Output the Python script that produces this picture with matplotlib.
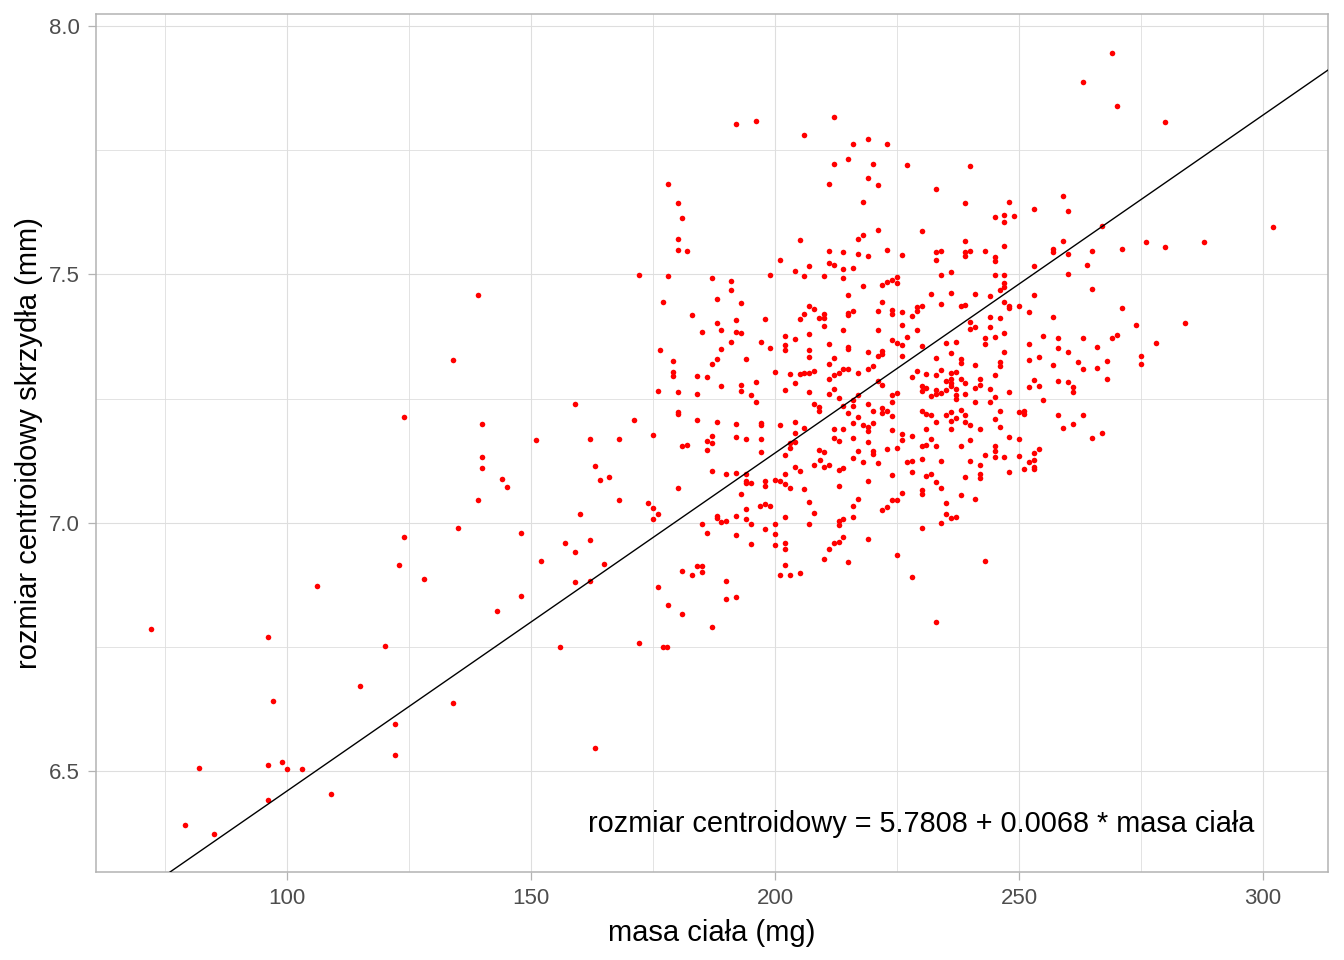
import matplotlib
matplotlib.use("Agg")
import matplotlib.pyplot as plt
import numpy as np

# ---- data (masa ciała [mg], rozmiar centroidowy [mm]), grouped by region ----
lewa_strona = [(124.0,7.214),(124.0,6.972),(122.9,6.916),(106.1,6.873),(72.1,6.787),(96.1,6.771),(120.1,6.752),
    (115.0,6.673),(97.1,6.641),(122.1,6.595),(122.1,6.534),(82.0,6.508),(96.1,6.514),(99.0,6.520),(100.0,6.506),
    (103.1,6.506),(109.0,6.454),(96.1,6.442),(79.1,6.392),(85.0,6.374)]

srodek_lewy = [(176.0,7.266),(159.0,7.240),(140.0,7.200),(171.1,7.208),(151.0,7.166),(162.1,7.168),(168.0,7.168),
    (175.0,7.178),(140.0,7.133),(140.0,7.111),(163.1,7.115),(144.1,7.089),(164.1,7.087),(166.0,7.093),(145.1,7.073),
    (139.1,7.047),(168.0,7.047),(174.0,7.041),(175.0,7.031),(160.0,7.019),(176.0,7.019),(175.0,7.007),(135.0,6.989),
    (148.0,6.979),(157.0,6.960),(162.1,6.966),(159.0,6.942),(152.0,6.924),(165.0,6.918),(128.1,6.888),(159.0,6.882),
    (162.1,6.884),(176.0,6.872),(148.0,6.854),(143.0,6.822),(155.9,6.751),(172.1,6.759),(134.0,6.637),(163.1,6.548),
    (177.0,6.750),(177.9,6.750),(139.1,7.458),(134.0,7.327),(172.1,7.498)]

kolumna_200_gora = [(192.0,7.802),(196.1,7.808),(205.9,7.780),(178.1,7.682),(180.1,7.643),(180.9,7.613),(180.1,7.571),
    (180.1,7.549),(182.0,7.547),(205.1,7.569),(201.0,7.529),(207.0,7.517),(204.1,7.507),(205.9,7.496),(178.1,7.496),
    (199.0,7.498),(187.1,7.492),(191.0,7.486),(191.0,7.468),(177.0,7.444),(188.1,7.450),(193.0,7.442),(207.0,7.436),
    (208.0,7.430),(183.0,7.418),(205.9,7.420),(205.1,7.410),(209.0,7.412),(188.1,7.402),(192.0,7.408),(198.0,7.410),
    (185.0,7.384),(188.9,7.388),(192.0,7.384),(193.0,7.382),(207.0,7.380),(202.0,7.376),(204.1,7.370),(191.0,7.364),
    (197.1,7.364),(202.0,7.358),(188.9,7.350),(199.0,7.352),(202.0,7.348),(207.0,7.347),(176.4,7.348),(207.0,7.334),
    (188.1,7.329),(194.1,7.329)]

kolumna_200_dol = [(179.1,7.325),(187.1,7.319),(179.1,7.304),(179.1,7.296),(184.0,7.296),(186.1,7.294),(200.0,7.304),
    (203.1,7.300),(205.1,7.300),(205.9,7.302),(207.0,7.302),(208.0,7.306),(196.1,7.284),(188.9,7.276),(193.0,7.278),
    (193.0,7.266),(204.1,7.282),(180.1,7.264),(184.0,7.260),(195.1,7.258),(202.0,7.268),(207.0,7.264),(196.1,7.244),
    (180.1,7.224),(180.1,7.220),(208.0,7.240),(209.0,7.234),(209.0,7.226),(184.0,7.208),(188.1,7.204),(192.0,7.200),
    (197.1,7.202),(197.1,7.198),(201.0,7.198),(204.1,7.204),(205.9,7.192),(204.1,7.181),(187.1,7.175),(186.1,7.165),
    (187.1,7.161),(192.0,7.173),(194.1,7.169),(197.1,7.169),(203.1,7.161),(204.1,7.163),(181.0,7.155),(182.0,7.157),
    (186.1,7.147),(203.1,7.151),(209.0,7.147),(197.1,7.143),(202.0,7.137),(208.0,7.117),(204.1,7.113),(205.1,7.105),
    (187.1,7.105),(190.0,7.099),(192.0,7.101),(194.1,7.099),(202.0,7.099),(194.1,7.085),(194.1,7.081),(195.1,7.081),
    (198.0,7.085),(198.0,7.075),(200.0,7.087),(201.0,7.085),(202.0,7.079),(203.1,7.071),(205.9,7.069),(180.1,7.071),
    (193.0,7.058),(207.0,7.042),(196.9,7.034),(198.0,7.038),(199.0,7.034),(194.1,7.028),(208.0,7.020),(188.1,7.014),
    (188.1,7.010),(192.0,7.014),(194.1,7.008),(202.0,7.012),(188.9,7.002),(190.0,7.004),(185.0,6.998),(195.1,6.998),
    (200.0,6.998),(207.0,6.998),(186.1,6.980),(192.0,6.976),(198.0,6.988),(200.0,6.978),(195.1,6.958),(200.0,6.956),
    (202.0,6.960),(202.0,6.948),(202.0,6.915),(184.0,6.913),(185.0,6.913),(181.0,6.903),(183.0,6.895),(185.0,6.901),
    (201.0,6.895),(203.1,6.895),(205.1,6.899),(190.0,6.883),(190.0,6.847),(192.0,6.851),(178.1,6.835),(181.0,6.817),
    (187.1,6.790)]

kolumna_225_gora = [(212.1,7.817),(216.0,7.762),(219.1,7.772),(223.0,7.762),(212.1,7.722),(215.0,7.732),(220.1,7.722),
    (227.0,7.720),(240.0,7.718),(211.1,7.681),(219.1,7.695),(221.1,7.679),(233.0,7.671),(218.0,7.645),(238.9,7.643),
    (221.1,7.590),(230.1,7.588),(217.0,7.572),(218.0,7.580),(238.9,7.568),(211.1,7.548),(213.9,7.546),(217.0,7.542),
    (219.1,7.538),(223.0,7.550),(226.0,7.540),(233.0,7.546),(234.0,7.548),(238.9,7.546),(240.0,7.548),(238.9,7.538),
    (233.0,7.530),(211.1,7.524),(212.1,7.520),(213.9,7.511),(216.0,7.513),(210.0,7.497),(213.9,7.493),(236.1,7.505),
    (234.0,7.499),(225.0,7.495),(225.0,7.483),(224.0,7.489),(223.0,7.485),(221.9,7.479),(218.0,7.477),(215.0,7.459),
    (232.0,7.461),(236.1,7.463),(241.0,7.461),(221.9,7.445),(234.0,7.441),(238.1,7.437),(238.9,7.439),(229.1,7.435),
    (230.1,7.437),(229.1,7.427),(210.0,7.420),(210.0,7.412),(215.0,7.423),(215.0,7.419),(216.0,7.427),(221.1,7.427),
    (224.0,7.429),(224.0,7.421),(226.0,7.425),(228.1,7.416),(240.0,7.404),(241.0,7.394),(240.0,7.390),(210.0,7.396),
    (213.9,7.388),(221.1,7.388),(226.0,7.398),(229.1,7.388),(227.0,7.374),(224.0,7.368),(225.0,7.362),(226.0,7.358),
    (230.1,7.356),(235.0,7.362),(237.1,7.364),(211.1,7.360),(215.0,7.354),(215.0,7.350),(219.1,7.344),(221.9,7.346),
    (221.9,7.340),(221.1,7.336),(212.1,7.332),(226.0,7.336),(233.0,7.332),(236.1,7.342),(238.1,7.330)]

kolumna_225_dol = [(211.1,7.319),(212.1,7.298),(213.1,7.302),(213.9,7.310),(215.0,7.310),(217.0,7.302),(219.1,7.310),
    (220.1,7.315),(211.1,7.290),(228.1,7.294),(229.1,7.306),(230.9,7.300),(233.0,7.298),(234.0,7.308),(238.1,7.321),
    (241.0,7.317),(236.1,7.302),(237.1,7.304),(235.0,7.286),(236.1,7.290),(236.1,7.282),(236.1,7.276),(238.1,7.290),
    (238.9,7.282),(241.9,7.290),(241.9,7.278),(241.0,7.272),(221.1,7.286),(221.9,7.278),(212.1,7.270),(211.1,7.260),
    (230.1,7.276),(230.1,7.266),(230.9,7.272),(233.0,7.268),(233.0,7.260),(232.0,7.256),(234.0,7.262),(235.0,7.268),
    (237.1,7.270),(237.1,7.258),(237.1,7.250),(238.9,7.260),(225.0,7.262),(224.0,7.258),(217.0,7.258),(213.1,7.252),
    (216.0,7.248),(241.0,7.244),(224.0,7.244),(213.9,7.236),(216.0,7.236),(219.1,7.240),(221.9,7.232),(220.1,7.226),
    (221.9,7.222),(223.0,7.226),(215.0,7.222),(224.0,7.216),(217.0,7.214),(216.0,7.202),(218.0,7.198),(220.1,7.202),
    (219.1,7.194),(219.1,7.185),(212.1,7.190),(213.9,7.190),(224.0,7.188),(230.1,7.226),(230.9,7.220),(232.0,7.218),
    (233.0,7.204),(235.0,7.218),(236.1,7.224),(237.1,7.212),(236.1,7.206),(238.1,7.228),(238.9,7.218),(238.9,7.204),
    (240.0,7.198),(241.9,7.190),(236.1,7.190),(230.9,7.190),(226.0,7.179),(226.0,7.167),(228.1,7.175),(232.0,7.169),
    (240.0,7.167),(212.1,7.171),(213.1,7.165),(216.0,7.171),(219.1,7.163),(230.1,7.155),(230.9,7.157),(233.0,7.155),
    (238.1,7.155),(210.0,7.143),(217.0,7.145),(220.1,7.145),(220.1,7.139),(223.0,7.149),(225.0,7.151),(216.0,7.131),
    (218.0,7.123),(221.1,7.121),(209.2,7.127),(210.0,7.113),(211.1,7.117),(213.1,7.107),(213.9,7.111),(227.0,7.123),
    (228.1,7.125),(230.1,7.129),(234.0,7.125),(240.0,7.125),(241.9,7.117),(228.1,7.103),(230.9,7.095),(232.0,7.099),
    (224.0,7.097),(238.9,7.093),(241.9,7.099),(241.9,7.091),(219.1,7.085),(213.1,7.075),(233.0,7.083),(234.0,7.071),
    (230.1,7.067),(230.1,7.058),(226.0,7.060),(238.1,7.056),(241.0,7.048),(217.0,7.048),(224.0,7.046),(225.0,7.046),
    (235.0,7.040),(216.0,7.034),(223.0,7.032),(221.9,7.026),(235.0,7.018),(236.1,7.010),(237.1,7.012),(216.0,7.012),
    (213.1,7.004),(213.9,7.008),(213.1,6.996),(234.0,7.000),(230.1,6.990),(213.9,6.972),(213.1,6.962),(212.1,6.960),
    (219.1,6.968),(211.1,6.948),(210.0,6.927),(215.0,6.921),(225.0,6.935),(228.1,6.891),(233.0,6.800)]

kolumna_250_gora = [(270.1,7.839),(248.0,7.645),(259.0,7.657),(253.1,7.631),(260.0,7.627),(245.1,7.615),(246.9,7.619),
    (246.9,7.606),(249.0,7.617),(267.0,7.598),(246.9,7.558),(243.0,7.548),(245.1,7.536),(245.1,7.528),(259.0,7.568),
    (257.0,7.552),(257.0,7.546),(260.0,7.542),(265.0,7.548),(271.1,7.552),(263.9,7.520),(253.1,7.518),(245.1,7.499),
    (246.9,7.499),(260.0,7.501),(246.9,7.483),(246.9,7.475),(246.1,7.469),(244.1,7.457),(265.0,7.471),(253.1,7.459),
    (246.9,7.445),(248.0,7.437),(248.0,7.433),(250.0,7.437),(271.1,7.433),(252.0,7.425),(244.1,7.414),(246.1,7.412),
    (257.0,7.414),(274.0,7.398),(244.1,7.394),(243.0,7.372),(243.0,7.360),(245.1,7.374),(246.9,7.382),(254.9,7.376),
    (258.0,7.372),(263.1,7.372),(269.1,7.372),(270.1,7.378),(252.0,7.360),(258.0,7.352),(266.0,7.354),(246.9,7.344),
    (254.1,7.334),(260.0,7.343),(252.0,7.328)]

kolumna_250_dol = [(246.1,7.323),(246.1,7.315),(257.0,7.317),(262.1,7.323),(263.1,7.310),(266.0,7.312),(268.0,7.325),
    (245.1,7.298),(244.1,7.270),(248.0,7.264),(252.0,7.274),(253.1,7.288),(254.1,7.276),(258.0,7.286),(260.0,7.284),
    (261.1,7.274),(261.1,7.264),(268.0,7.290),(245.1,7.254),(244.1,7.244),(254.9,7.248),(246.1,7.226),(250.0,7.224),
    (251.0,7.226),(251.0,7.220),(258.0,7.218),(263.1,7.218),(245.1,7.210),(246.1,7.194),(259.0,7.192),(261.1,7.200),
    (267.0,7.181),(265.0,7.171),(248.0,7.173),(250.0,7.169),(245.1,7.155),(245.1,7.145),(243.0,7.137),(245.1,7.133),
    (246.9,7.133),(250.0,7.135),(254.1,7.149),(253.1,7.141),(253.1,7.127),(252.0,7.123),(253.1,7.113),(253.1,7.109),
    (251.0,7.109),(248.0,7.103),(243.0,6.923)]

prawa_strona = [(279.9,7.807),(276.0,7.565),(279.9,7.555),(287.9,7.565),(302.0,7.595),(284.0,7.402),(278.1,7.362),
    (275.0,7.336),(275.0,7.319),(269.1,7.946),(263.1,7.887)]

# regression line
wyraz_wolny = 5.7808
nachylenie = 0.0068
etykieta_rownania = "rozmiar centroidowy = 5.7808 + 0.0068 * masa ciała"

x_ticks = [100, 150, 200, 250, 300]
y_ticks = [6.5, 7.0, 7.5, 8.0]

grupy = [lewa_strona, srodek_lewy, kolumna_200_gora, kolumna_200_dol, kolumna_225_gora,
         kolumna_225_dol, kolumna_250_gora, kolumna_250_dol, prawa_strona]
pts = np.array([p for g in grupy for p in g])
masa = pts[:, 0]
rozmiar = pts[:, 1]

plt.rcParams['font.family'] = ['Liberation Sans', 'DejaVu Sans']

fig = plt.figure(figsize=(13.44, 9.6), dpi=100)
ax = fig.add_axes([96/1344, 1 - 872/960, (1328-96)/1344, (872-14)/960])

ax.set_xlim(60.86, 313.3)
ax.set_ylim(6.2978, 8.024)

grid_c = '#dedede'
ax.set_xticks(x_ticks)
ax.set_yticks(y_ticks)
ax.set_xticks([75, 125, 175, 225, 275], minor=True)
ax.set_yticks([6.75, 7.25, 7.75], minor=True)
ax.grid(which='major', color=grid_c, linewidth=0.8)
ax.grid(which='minor', color=grid_c, linewidth=0.6)
ax.set_axisbelow(True)

ax.scatter(masa, rozmiar, s=16, color='#ff0000', linewidths=0, zorder=3)
ax.axline((0, wyraz_wolny), slope=nachylenie, color='black', linewidth=1.0, zorder=4)

ax.text(230, 6.394, etykieta_rownania, ha='center', va='center', fontsize=20.8, color='black')

for s in ax.spines.values():
    s.set_color('#b3b3b3')
    s.set_linewidth(1.1)

ax.tick_params(axis='both', which='major', length=5.5, width=0.9, color='#b3b3b3',
               labelsize=16, labelcolor='#4d4d4d', pad=6)
ax.tick_params(axis='both', which='minor', length=0)
ax.set_xticklabels([str(v) for v in x_ticks])
ax.set_yticklabels([f"{v:.1f}" for v in y_ticks])

ax.set_xlabel('masa ciała (mg)', fontsize=21, color='black', labelpad=7.5)
ax.set_ylabel('rozmiar centroidowy skrzydła (mm)', fontsize=21, color='black', labelpad=4.5)

fig.savefig('out.png', dpi=100)
